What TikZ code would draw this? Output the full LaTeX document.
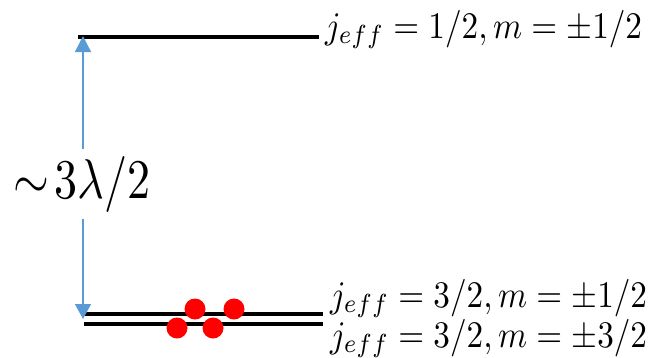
\documentclass[tikz,border=0pt]{standalone}
\usetikzlibrary{arrows.meta}
\definecolor{gapblue}{RGB}{91,155,213}
\newcommand{\statetext}[1]{\scalebox{3.32}[3.75]{$#1$}}
\begin{document}
\begin{tikzpicture}[x=1pt,y=-1pt,
  level/.style={line width=4pt},
  electron/.style={circle,fill=red,inner sep=0pt,minimum size=21pt},
  statelabel/.style={anchor=base west,inner sep=0pt},
  gap/.style={draw=gapblue,line width=1.3pt,{Triangle[width=16pt,length=16pt]}-{Triangle[width=16pt,length=15pt]}}]
  \useasboundingbox (0,0) rectangle (651,357);
  % energy levels
  \coordinate (uL) at (78,37);   \coordinate (uR) at (319,37);
  \coordinate (mL) at (84,314);  \coordinate (mR) at (323,314);
  \coordinate (lL) at (84,324);  \coordinate (lR) at (323,324);
  \draw[level] (uL) -- (uR);
  \draw[level] (mL) -- (mR);
  \draw[level] (lL) -- (lR);
  % splitting arrow with its label
  \coordinate (aT) at (83,36);
  \coordinate (aB) at (83,319);
  \draw[gap] (aT) -- (aB);
  \node[fill=white,inner sep=0pt,minimum height=70pt,anchor=center] (split) at (82,184)
       {\scalebox{4.6}[5.6]{$\sim\!3\lambda/2$}};
  % electrons
  \node[electron] (e1) at (195,309) {};
  \node[electron] (e2) at (234,309) {};
  \node[electron] (e3) at (177,328) {};
  \node[electron] (e4) at (213,328) {};
  % state labels
  \node[statelabel] (s1) at (325,38)  {\statetext{j_{eff}=1/2, m=\pm1/2}};
  \node[statelabel] (s2) at (330,307) {\statetext{j_{eff}=3/2, m=\pm1/2}};
  \node[statelabel] (s3) at (330,347) {\statetext{j_{eff}=3/2, m=\pm3/2}};
\end{tikzpicture}
\end{document}
